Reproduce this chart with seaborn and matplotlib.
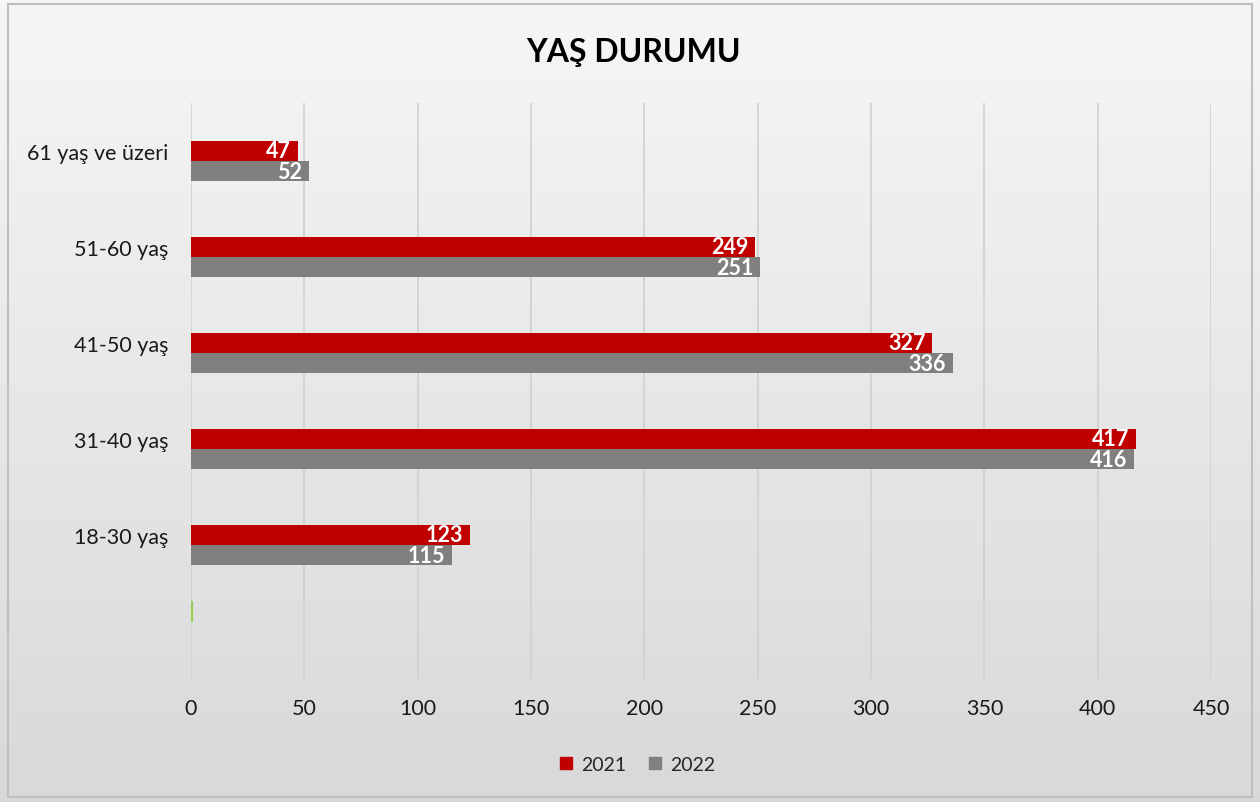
import numpy as np
import pandas as pd
import seaborn as sns
import matplotlib.pyplot as plt
from matplotlib.patches import Rectangle

# Veriler
kategoriler = ["61 yaş ve üzeri", "51-60 yaş", "41-50 yaş", "31-40 yaş", "18-30 yaş", ""]
degerler_diger = [np.nan, np.nan, np.nan, np.nan, np.nan, 0.4]   # bos kategorideki yesil seri
degerler_2021 = [47, 249, 327, 417, 123, np.nan]
degerler_2022 = [52, 251, 336, 416, 115, np.nan]
seriler = ["diger", "2021", "2022"]
renkler = ["#92D050", "#C00000", "#808080"]
x_ticks = [0, 50, 100, 150, 200, 250, 300, 350, 400, 450]

df = pd.DataFrame({
    "kategori": kategoriler * 3,
    "seri": [s for s in seriler for _ in kategoriler],
    "deger": degerler_diger + degerler_2021 + degerler_2022,
})

sns.set_style("white")
plt.rcParams["font.family"] = ["Lato", "DejaVu Sans"]

fig = plt.figure(figsize=(12.6, 8.03), dpi=100)

# Arka plan: dikey gradyan
bg = fig.add_axes([0, 0, 1, 1], zorder=-10)
grad = np.linspace(0, 1, 256).reshape(-1, 1)
ust = np.array([0.965, 0.965, 0.965])
alt = np.array([0.85, 0.85, 0.85])
img = ust + (alt - ust) * grad[:, :, None]
bg.imshow(img, aspect="auto", extent=[0, 1, 0, 1])
bg.axis("off")
fig.patches.append(Rectangle((0.006, 0.006), 0.988, 0.988, transform=fig.transFigure,
                             fill=False, edgecolor="#bfbfbf", linewidth=1.5))

ax = fig.add_axes([0.1516, 0.1532, 0.8095, 0.7173])
ax.patch.set_alpha(0)

sns.barplot(data=df, y="kategori", x="deger", hue="seri", order=kategoriler,
            hue_order=seriler, palette=renkler, orient="h", width=0.63,
            saturation=1, ax=ax, legend=False, linewidth=0)

# yesil cizgi biraz gorunsun
for p in ax.containers[0].patches:
    p.set_edgecolor("#92D050")
    p.set_linewidth(0.8)

# Deger etiketleri (cubuk icinde, sag uc)
for cont in ax.containers[1:]:
    for p in cont.patches:
        w = p.get_width()
        if np.isnan(w) or w == 0:
            continue
        ax.text(w - 3, p.get_y() + p.get_height() / 2, f"{int(w)}",
                ha="right", va="center", color="white", fontsize=15.5,
                fontweight="bold")

ax.set_xlim(0, 450)
ax.set_xticks(x_ticks)
ax.set_xticklabels([str(t) for t in x_ticks], fontsize=15.5, color="#1a1a1a")
ax.tick_params(axis="y", labelsize=15.5, labelcolor="#1a1a1a", length=0, pad=16)
ax.tick_params(axis="x", length=0, pad=14)
ax.set_xlabel("")
ax.set_ylabel("")
ax.grid(axis="x", color="#d0d0d0", linewidth=1.2)
ax.set_axisbelow(True)
for s in ax.spines.values():
    s.set_visible(False)

handles = [Rectangle((0, 0), 1, 1, color=c) for c in renkler[1:]]
fig.legend(handles, seriler[1:], loc="center", bbox_to_anchor=(0.506, 0.047), ncol=2,
           frameon=False, fontsize=14, handlelength=0.62, handleheight=0.62,
           handletextpad=0.45, columnspacing=1.2)

fig.text(0.503, 0.935, "YAŞ DURUMU", ha="center", va="center", fontsize=23,
         fontweight="bold", color="#000000")

fig.savefig("out.png", dpi=100)
